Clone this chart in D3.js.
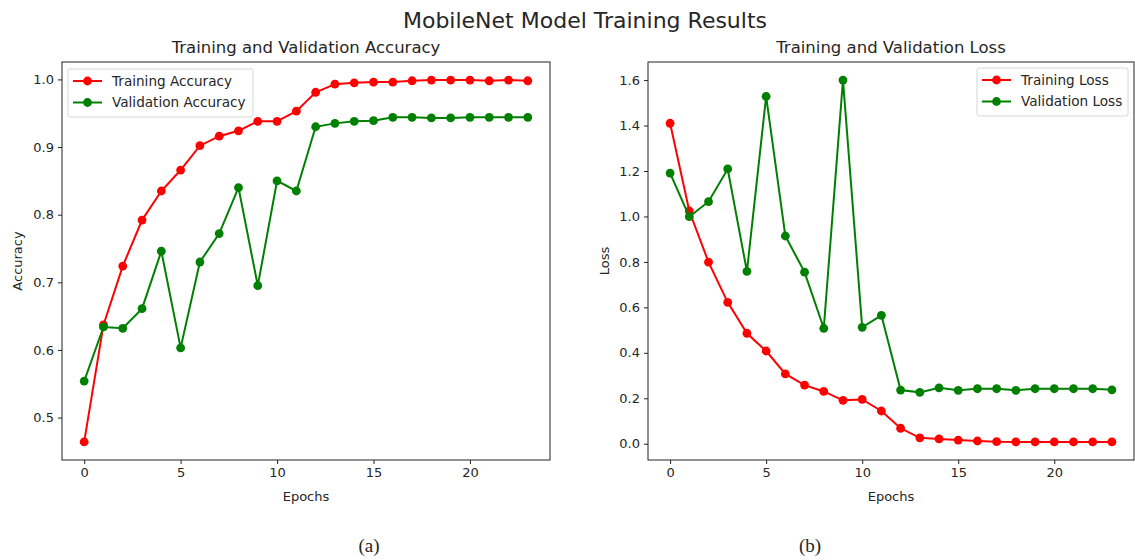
<!DOCTYPE html>
<html>
<head>
<meta charset="utf-8">
<script src="https://cdn.jsdelivr.net/npm/d3@7"></script>
<style>
  body { margin: 0; background: #fff; }
  svg { display: block; }
  text { font-family: "DejaVu Sans", sans-serif; fill: #262626; }
</style>
</head>
<body>
<svg id="chart" width="1135" height="560"></svg>
<script>
// ---- data ----
const epochs = d3.range(0, 24);
const trainAcc = [0.464, 0.637, 0.724, 0.792, 0.835, 0.866, 0.902, 0.916, 0.924, 0.938, 0.938, 0.953,
                  0.981, 0.993, 0.995, 0.996, 0.996, 0.998, 0.999, 0.999, 0.999, 0.998, 0.999, 0.998];
const valAcc   = [0.554, 0.634, 0.632, 0.661, 0.746, 0.603, 0.730, 0.772, 0.840, 0.695, 0.850, 0.835,
                  0.930, 0.935, 0.938, 0.939, 0.944, 0.944, 0.943, 0.943, 0.944, 0.944, 0.944, 0.944];
const trainLoss = [1.410, 1.024, 0.799, 0.622, 0.486, 0.408, 0.307, 0.258, 0.230, 0.191, 0.195, 0.144,
                   0.068, 0.026, 0.021, 0.016, 0.012, 0.009, 0.008, 0.008, 0.008, 0.008, 0.008, 0.008];
const valLoss   = [1.191, 0.999, 1.065, 1.209, 0.758, 1.528, 0.914, 0.755, 0.508, 1.600, 0.512, 0.565,
                   0.236, 0.226, 0.246, 0.235, 0.242, 0.242, 0.235, 0.242, 0.242, 0.242, 0.242, 0.237];
const xTicks = [0, 5, 10, 15, 20];
const accTicks = [0.5, 0.6, 0.7, 0.8, 0.9, 1.0];
const lossTicks = [0.0, 0.2, 0.4, 0.6, 0.8, 1.0, 1.2, 1.4, 1.6];

const svg = d3.select("#chart");

svg.append("text").attr("x", 585).attr("y", 28).attr("text-anchor", "middle")
  .style("font-size", "22px").text("MobileNet Model Training Results");

function padDomain(arrs) {
  const all = arrs.flat();
  const lo = d3.min(all), hi = d3.max(all);
  const m = (hi - lo) * 0.05;
  return [lo - m, hi + m];
}

function panel(opt) {
  const {left, right, top, bottom} = opt;
  const g = svg.append("g");
  const x = d3.scaleLinear().domain(padDomain([epochs])).range([left, right]);
  const y = d3.scaleLinear().domain(padDomain(opt.series.map(s => s.values))).range([bottom, top]);

  // axes
  const xa = g.append("g").attr("transform", `translate(0,${bottom})`)
    .call(d3.axisBottom(x).tickValues(xTicks).tickFormat(d3.format("d")).tickSize(4).tickPadding(4));
  const ya = g.append("g").attr("transform", `translate(${left},0)`)
    .call(d3.axisLeft(y).tickValues(opt.yTicks).tickFormat(d3.format(".1f")).tickSize(4).tickPadding(4));
  [xa, ya].forEach(a => {
    a.select(".domain").remove();
    a.selectAll("line").attr("stroke", "#222");
    a.selectAll("text").style("font-size", "13px").attr("fill", "#262626").style("font-family", "DejaVu Sans");
  });

  // lines and markers
  const line = d3.line().x((d, i) => x(epochs[i])).y(d => y(d));
  opt.series.forEach(s => {
    g.append("path").datum(s.values).attr("d", line)
      .attr("fill", "none").attr("stroke", s.color).attr("stroke-width", 2);
    g.selectAll(null).data(s.values).enter().append("circle")
      .attr("cx", (d, i) => x(epochs[i])).attr("cy", d => y(d)).attr("r", 4.4)
      .attr("fill", s.color);
  });

  // frame
  g.append("rect").attr("x", left).attr("y", top).attr("width", right - left).attr("height", bottom - top)
    .attr("fill", "none").attr("stroke", "#222").attr("stroke-width", 1);

  // titles
  g.append("text").attr("x", (left + right) / 2).attr("y", 53).attr("text-anchor", "middle")
    .style("font-size", "16.5px").text(opt.title);
  g.append("text").attr("x", (left + right) / 2).attr("y", 501).attr("text-anchor", "middle")
    .style("font-size", "13px").text("Epochs");
  g.append("text").attr("transform", `translate(${opt.ylabelX},${(top + bottom) / 2}) rotate(-90)`)
    .attr("text-anchor", "middle").attr("dy", "0.35em").style("font-size", "13px").text(opt.ylabel);

  // legend
  const L = opt.legend;
  g.append("rect").attr("x", L.x).attr("y", L.y).attr("width", L.w).attr("height", 48)
    .attr("rx", 2).attr("fill", "#fff").attr("fill-opacity", 0.8).attr("stroke", "#d6d6d6");
  opt.series.forEach((s, i) => {
    const cy = L.y + 12 + i * 21.5;
    g.append("line").attr("x1", L.x + 5).attr("x2", L.x + 34).attr("y1", cy).attr("y2", cy)
      .attr("stroke", s.color).attr("stroke-width", 2);
    g.append("circle").attr("cx", L.x + 19.5).attr("cy", cy).attr("r", 4.4).attr("fill", s.color);
    g.append("text").attr("x", L.x + 44).attr("y", cy).attr("dy", "0.35em")
      .style("font-size", "13.6px").text(s.name);
  });

  g.append("text").attr("x", opt.capX).attr("y", 552).attr("text-anchor", "middle")
    .style("font-family", "Liberation Serif, serif").style("font-size", "19px").attr("fill", "#000")
    .text(opt.caption);
}

panel({
  left: 62, right: 550, top: 62, bottom: 460,
  series: [
    {name: "Training Accuracy", values: trainAcc, color: "#ff0000"},
    {name: "Validation Accuracy", values: valAcc, color: "#008000"}
  ],
  yTicks: accTicks, title: "Training and Validation Accuracy", ylabel: "Accuracy", ylabelX: 17,
  legend: {x: 68, y: 69, w: 185}, caption: "(a)", capX: 369
});

panel({
  left: 648, right: 1134, top: 62, bottom: 460,
  series: [
    {name: "Training Loss", values: trainLoss, color: "#ff0000"},
    {name: "Validation Loss", values: valLoss, color: "#008000"}
  ],
  yTicks: lossTicks, title: "Training and Validation Loss", ylabel: "Loss", ylabelX: 604,
  legend: {x: 977, y: 68, w: 151}, caption: "(b)", capX: 810
});
</script>
</body>
</html>
